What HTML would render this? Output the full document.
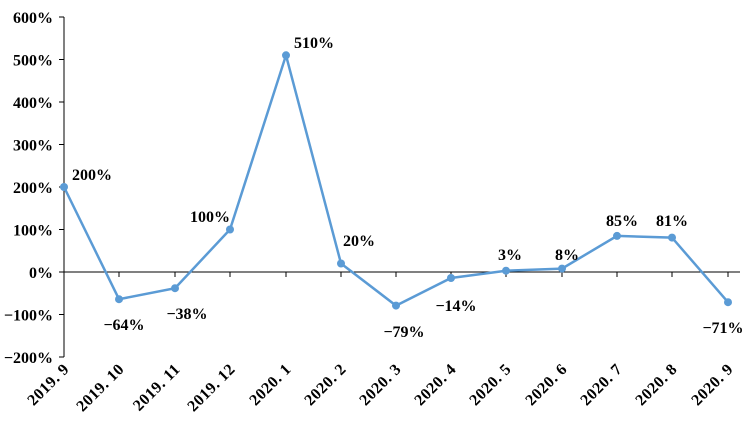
<!DOCTYPE html>
<html><head><style>body{margin:0;background:#fff}</style></head><body>
<svg width="750" height="428" xmlns="http://www.w3.org/2000/svg" font-family="'Liberation Serif', serif" font-size="16" font-weight="bold" fill="#000">
<g stroke="#000" stroke-width="1">
<line x1="64" y1="17" x2="64" y2="357"/>
<line x1="64" y1="272" x2="740" y2="272"/>
<line x1="59" y1="17" x2="64" y2="17"/><line x1="59" y1="59.5" x2="64" y2="59.5"/><line x1="59" y1="102" x2="64" y2="102"/><line x1="59" y1="144.5" x2="64" y2="144.5"/><line x1="59" y1="187" x2="64" y2="187"/><line x1="59" y1="229.5" x2="64" y2="229.5"/><line x1="59" y1="272" x2="64" y2="272"/><line x1="59" y1="314.5" x2="64" y2="314.5"/><line x1="59" y1="357" x2="64" y2="357"/>
<line x1="119" y1="272" x2="119" y2="277"/><line x1="175" y1="272" x2="175" y2="277"/><line x1="230" y1="272" x2="230" y2="277"/><line x1="286" y1="272" x2="286" y2="277"/><line x1="341" y1="272" x2="341" y2="277"/><line x1="396" y1="272" x2="396" y2="277"/><line x1="451" y1="272" x2="451" y2="277"/><line x1="506" y1="272" x2="506" y2="277"/><line x1="562" y1="272" x2="562" y2="277"/><line x1="617" y1="272" x2="617" y2="277"/><line x1="672" y1="272" x2="672" y2="277"/><line x1="728" y1="272" x2="728" y2="277"/>
</g>
<g text-anchor="end">
<text x="53" y="23">600%</text><text x="53" y="65.5">500%</text><text x="53" y="108">400%</text><text x="53" y="150.5">300%</text><text x="53" y="193">200%</text><text x="53" y="235.5">100%</text><text x="53" y="278">0%</text><text x="53" y="320.5">−100%</text><text x="53" y="363">−200%</text>
</g>
<polyline fill="none" stroke="#5b9bd5" stroke-width="2.5" points="64,187 119,299.2 175,288.2 230,229.5 286,55.3 341,263.5 396,305.6 451,278 506,270.7 562,268.6 617,235.9 672,237.6 728,302.2"/>
<g fill="#5b9bd5">
<circle cx="64" cy="187" r="4"/><circle cx="119" cy="299.2" r="4"/><circle cx="175" cy="288.2" r="4"/><circle cx="230" cy="229.5" r="4"/><circle cx="286" cy="55.3" r="4"/><circle cx="341" cy="263.5" r="4"/><circle cx="396" cy="305.6" r="4"/><circle cx="451" cy="278" r="4"/><circle cx="506" cy="270.7" r="4"/><circle cx="562" cy="268.6" r="4"/><circle cx="617" cy="235.9" r="4"/><circle cx="672" cy="237.6" r="4"/><circle cx="728" cy="302.2" r="4"/>
</g>
<g text-anchor="middle">
<text x="92" y="180">200%</text><text x="124" y="330">−64%</text><text x="187" y="319">−38%</text><text x="210" y="222">100%</text><text x="314" y="48">510%</text><text x="359" y="246">20%</text><text x="404" y="337">−79%</text><text x="456" y="311">−14%</text><text x="510" y="260">3%</text><text x="567" y="260">8%</text><text x="622" y="226">85%</text><text x="672" y="226">81%</text><text x="723" y="333">−71%</text>
</g>
<g text-anchor="end" letter-spacing="0.5">
<text transform="translate(70,370) rotate(-45)">2019. 9</text>
<text transform="translate(125,370) rotate(-45)">2019. 10</text>
<text transform="translate(181,370) rotate(-45)">2019. 11</text>
<text transform="translate(236,370) rotate(-45)">2019. 12</text>
<text transform="translate(292,370) rotate(-45)">2020. 1</text>
<text transform="translate(347,370) rotate(-45)">2020. 2</text>
<text transform="translate(402,370) rotate(-45)">2020. 3</text>
<text transform="translate(457,370) rotate(-45)">2020. 4</text>
<text transform="translate(512,370) rotate(-45)">2020. 5</text>
<text transform="translate(568,370) rotate(-45)">2020. 6</text>
<text transform="translate(623,370) rotate(-45)">2020. 7</text>
<text transform="translate(678,370) rotate(-45)">2020. 8</text>
<text transform="translate(734,370) rotate(-45)">2020. 9</text>
</g>
</svg>
</body></html>
